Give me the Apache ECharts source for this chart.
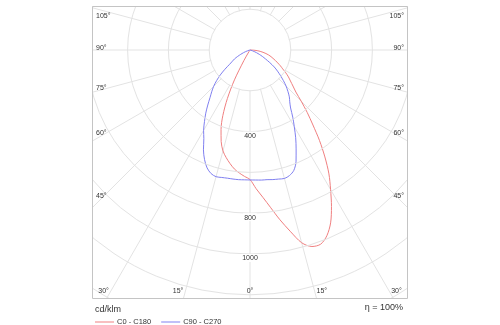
<!DOCTYPE html>
<html>
<head>
<meta charset="utf-8">
<script src="https://cdn.jsdelivr.net/npm/echarts@6/dist/echarts.min.js"></script>
<style>
html,body{margin:0;padding:0;background:#fff;}
#chart{width:500px;height:325px;}
</style>
</head>
<body>
<div id="chart"></div>
<script>
// ---- data (cd/klm), gamma in degrees from nadir ----
const gammas = [0, 2.5, 5, 7.5, 10, 12.5, 15, 17.5, 20, 22.5, 25, 27.5, 30, 32.5, 35, 37.5, 40, 42.5, 45,
                47.5, 50, 52.5, 55, 57.5, 60, 62.5, 65, 67.5, 70, 72.5, 75, 77.5, 80, 82.5, 85, 87.5, 90];
const c0   = [635, 680, 725, 780, 845, 910, 978, 1010, 1013, 985, 935, 865, 790, 720, 640, 560, 480, 415, 355,
              305, 275, 250, 230, 208, 185, 168, 150, 135, 120, 108, 95, 80, 65, 50, 35, 18, 0];
const c180 = [635, 620, 605, 588, 565, 540, 512, 470, 415, 348, 262, 165, 60, 10, 0, 0, 0, 0, 0,
              0, 0, 0, 0, 0, 0, 0, 0, 0, 0, 0, 0, 0, 0, 0, 0, 0, 0];
const c90  = [637, 638, 640, 641, 645, 648, 652, 645, 628, 590, 535, 485, 434, 390, 347, 320, 300, 275, 250,
              222, 195, 170, 145, 115, 88, 68, 50, 35, 22, 12, 5, 2, 0, 0, 0, 0, 0];
const c270 = [637, 637, 638, 638, 638, 640, 643, 635, 615, 582, 540, 490, 455, 415, 378, 340, 305, 278, 252,
              222, 190, 155, 122, 102, 88, 68, 50, 35, 22, 12, 5, 2, 0, 0, 0, 0, 0];
const seriesNames = ['C0 - C180', 'C90 - C270'];
const angleTicks = [0, 15, 30, 45, 60, 75, 90, 105];
const radiusLabels = [400, 800, 1000];
const unitText = 'cd/klm';
const etaText = 'η = 100%';

// ---- layout / style ----
const FONT = '"Liberation Sans", Arial, sans-serif';
const CENTER = [250, 50];
const PX_PER_CD = 0.204;
const R_MAX = 1600;
const HOLE = 200;
const BOX = {x: 92, y: 6, w: 316, h: 293};
const GRID = '#e3e3e3';
const RED = '#f07f80', BLUE = '#8080f0';

function buildPairs(right, left) {
  const pts = [];
  let lastL = left.indexOf(0); if (lastL < 0) lastL = left.length - 1;
  for (let i = lastL; i >= 0; i--) pts.push([left[i], 360 - gammas[i]]);
  let lastR = right.indexOf(0); if (lastR < 0) lastR = right.length - 1;
  for (let i = 1; i <= lastR; i++) pts.push([right[i], gammas[i]]);
  return pts;
}

const chart = echarts.init(document.getElementById('chart'), null, {renderer: 'canvas'});

const option = {
  animation: false,
  backgroundColor: '#fff',
  polar: {center: CENTER, radius: [0, R_MAX * PX_PER_CD]},
  angleAxis: {
    type: 'value', min: 0, max: 360, interval: 15,
    startAngle: 270, clockwise: false,
    axisLine: {show: false}, axisTick: {show: false}, axisLabel: {show: false},
    splitLine: {show: true, lineStyle: {color: GRID, width: 1}}
  },
  radiusAxis: {
    type: 'value', min: 0, max: R_MAX, interval: 200,
    axisLine: {show: false}, axisTick: {show: false},
    splitLine: {show: true, lineStyle: {color: GRID, width: 1}},
    axisLabel: {
      show: true, margin: 0, align: 'center', verticalAlign: 'top',
      formatter: v => radiusLabels.indexOf(v) >= 0 ? '{b|' + v + '}' : '',
      rich: {b: {fontSize: 7, fontFamily: FONT, color: '#333', backgroundColor: '#fff', padding: [1, 1, 0, 1]}}
    },
    z: 5
  },
  legend: {
    left: 90, top: 313, itemWidth: 19, itemHeight: 1, itemGap: 10, icon: 'rect',
    data: seriesNames, z: 80,
    textStyle: {fontSize: 7.5, fontFamily: FONT, color: '#333', padding: [0, 0, 0, -2]}
  },
  series: [
    {name: seriesNames[0], type: 'line', coordinateSystem: 'polar', data: buildPairs(c0, c180),
     showSymbol: false, smooth: 0.3, clip: false, color: RED, lineStyle: {width: 1, color: RED}, z: 3},
    {name: seriesNames[1], type: 'line', coordinateSystem: 'polar', data: buildPairs(c90, c270),
     showSymbol: false, smooth: 0.3, clip: false, color: BLUE, lineStyle: {width: 1, color: BLUE}, z: 3}
  ]
};
chart.setOption(option);

function toPx(r, ang) {
  let p = null;
  try { p = chart.convertToPixel({seriesIndex: 0}, [r, ang]); } catch (e) { p = null; }
  if (!p) {
    const rad = (270 + ang) * Math.PI / 180;
    p = [CENTER[0] + Math.cos(rad) * r * PX_PER_CD, CENTER[1] - Math.sin(rad) * r * PX_PER_CD];
  }
  return p;
}
function dir(angVal) {
  const p = toPx(1400, angVal);
  const dx = p[0] - CENTER[0], dy = p[1] - CENTER[1];
  const L = Math.hypot(dx, dy);
  return [dx / L, dy / L];
}

// ---- angle labels at the frame edges, along each spoke ----
const labelEls = [];
const sideInL = BOX.x + 10, sideInR = BOX.x + BOX.w - 10, botY = BOX.y + BOX.h - 8, topMin = BOX.y + 10;
angleTicks.forEach(a => {
  if (a === 0) {
    labelEls.push({type: 'text', x: CENTER[0], y: botY, z: 70, silent: true,
      style: {text: a + '°', fontSize: 7, fontFamily: FONT, fill: '#333', align: 'center', verticalAlign: 'middle'}});
    return;
  }
  ['L', 'R'].forEach(side => {
    const d = dir(side === 'L' ? 360 - a : a);
    const xs = side === 'L' ? sideInL : sideInR;
    const t = (xs - CENTER[0]) / d[0];
    const y = CENTER[1] + t * d[1];
    let el;
    if (y <= botY) {
      el = {x: side === 'L' ? BOX.x + 4 : BOX.x + BOX.w - 4, y: Math.max(topMin, y - 2),
            align: side === 'L' ? 'left' : 'right'};
    } else {
      const tb = (botY - CENTER[1]) / d[1];
      const xb = CENTER[0] + tb * d[0];
      el = {x: side === 'L' ? xb - 2 : xb + 2, y: botY, align: side === 'L' ? 'right' : 'left'};
    }
    labelEls.push({type: 'text', x: el.x, y: el.y, z: 70, silent: true,
      style: {text: a + '°', fontSize: 7, fontFamily: FONT, fill: '#333', align: el.align, verticalAlign: 'middle'}});
  });
});

// white hole in the middle of the grid (spokes start at the 200 cd/klm ring)
const holeEdge = toPx(HOLE, 0);
const holeR = Math.hypot(holeEdge[0] - CENTER[0], holeEdge[1] - CENTER[1]);

const masks = [
  {x: 0, y: 0, width: 500, height: BOX.y},
  {x: 0, y: 0, width: BOX.x, height: 325},
  {x: BOX.x + BOX.w, y: 0, width: 500 - BOX.x - BOX.w, height: 325},
  {x: 0, y: BOX.y + BOX.h, width: 500, height: 325 - BOX.y - BOX.h}
].map(s => ({type: 'rect', shape: s, style: {fill: '#fff'}, z: 50, silent: true}));

chart.setOption({
  graphic: {elements: [
    {type: 'circle', shape: {cx: CENTER[0], cy: CENTER[1], r: holeR - 0.5},
     style: {fill: '#fff'}, z: 1, silent: true}
  ].concat(masks).concat([
    {type: 'rect', shape: {x: BOX.x + 0.5, y: BOX.y + 0.5, width: BOX.w - 1, height: BOX.h - 1},
     style: {fill: null, stroke: '#c4c4c4', lineWidth: 1}, z: 60, silent: true},
    {type: 'text', x: 95, y: 309.5, z: 70, silent: true,
     style: {text: unitText, fontSize: 9, fontFamily: FONT, fill: '#333', align: 'left', verticalAlign: 'middle'}},
    {type: 'text', x: 403, y: 308, z: 70, silent: true,
     style: {text: etaText, fontSize: 9, fontFamily: FONT, fill: '#333', align: 'right', verticalAlign: 'middle'}}
  ]).concat(labelEls)}
});
</script>
</body>
</html>
